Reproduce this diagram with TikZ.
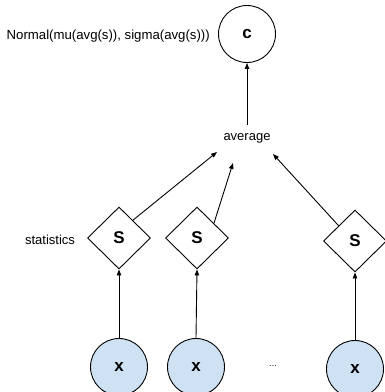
\documentclass[tikz,border=0pt]{standalone}
\usepackage{fontspec}
\setmainfont{Liberation Sans}
\usetikzlibrary{shapes.geometric,arrows.meta,calc}
\definecolor{obsfill}{HTML}{CFE2F3}
\begin{document}
\begin{tikzpicture}[x=1pt,y=-1pt,
  var/.style={circle,draw,line width=0.9pt,minimum size=57pt,inner sep=0pt,
    font=\fontsize{17}{17}\selectfont\bfseries},
  obs/.style={var,fill=obsfill},
  stat/.style={diamond,draw,line width=0.9pt,minimum width=63pt,minimum height=62pt,
    inner sep=0pt,font=\fontsize{17}{17}\selectfont\bfseries},
  lbl/.style={inner sep=0pt,font=\fontsize{13}{13}\selectfont},
  arr/.style={line width=0.9pt,-{Triangle[length=6pt,width=4.5pt]}}]
\useasboundingbox (0,0) rectangle (384,392);

% context variable and its prior
\node[var] (c) at (247,34) {c};
\node[lbl,anchor=east,font=\fontsize{13.2}{13.2}\selectfont] (prior) at (210,36)
  {Normal(mu(avg(s)), sigma(avg(s)))};

% pooling of the statistics
\node[lbl,minimum height=26pt] (avg) at (247,138) {average};
\coordinate (t1) at (217,152);
\coordinate (t2) at (233,163);
\coordinate (t3) at (273,154);

% statistic network outputs
\node[lbl] (statlbl) at (50,240) {statistics};
\node[stat] (s1) at (119,238) {S};
\node[stat] (s2) at (197,238) {S};
\node[stat] (s3) at (355,241) {S};

% observed samples
\node[obs] (x1) at (119,367) {x};
\node[obs] (x2) at (196,367) {x};
\node[obs] (x3) at (355,369) {x};
\node[lbl,font=\fontsize{9}{9}\selectfont] (dots) at (273,366) {...};

% connectors
\draw[arr] (avg.north) -- (c.south);
\draw[arr] (s1.52) -- (t1);
\draw[arr] (s2.41) -- (t2);
\draw[arr] (s3.137) -- (t3);
\draw[arr] (x1.north) -- (s1.south);
\draw[arr] (x2.north) -- (s2.south);
\draw[arr] (x3.north) -- (s3.south);
\end{tikzpicture}
\end{document}
